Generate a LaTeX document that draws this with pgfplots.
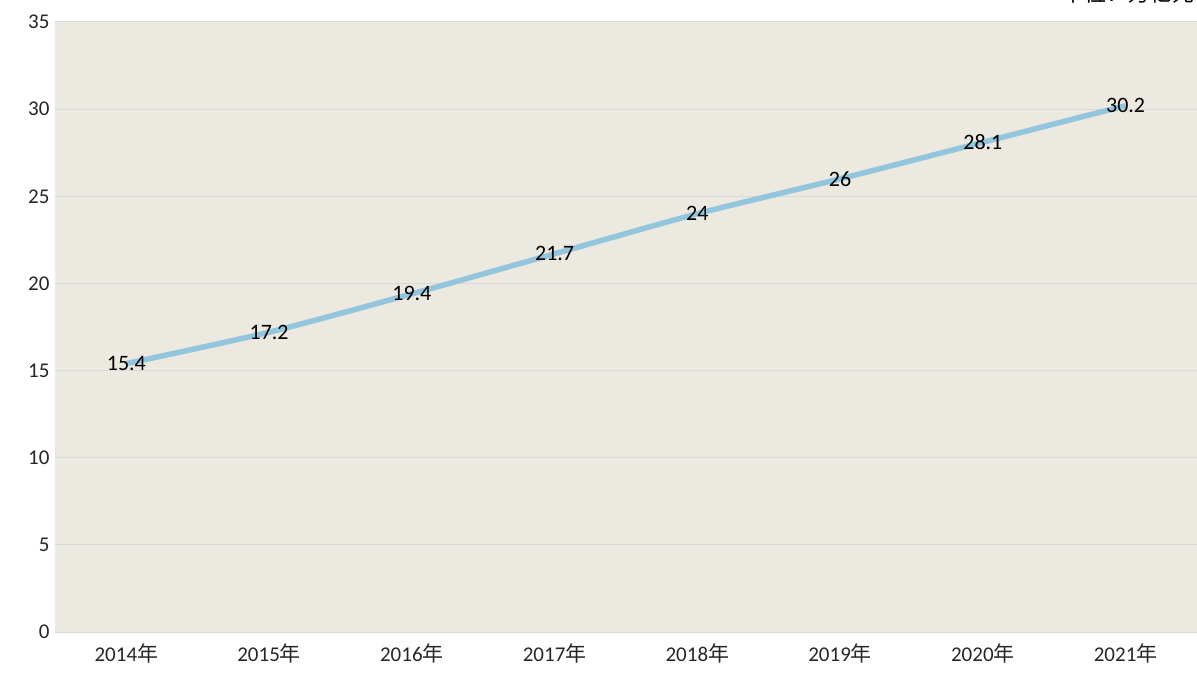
\documentclass[border=0pt]{standalone}
\usepackage{pgfplots}
\pgfplotsset{compat=1.18}
\usepackage{fontspec}
\setmainfont{Carlito}
\newfontfamily\cjk{Noto Sans CJK SC}
\definecolor{bgc}{HTML}{ECE9E0}
\definecolor{linec}{HTML}{93C6DC}
\definecolor{gridc}{HTML}{D9D9D9}
\begin{document}
\begin{tikzpicture}
\begin{axis}[
  at={(55bp,42bp)}, anchor=south west,
  scale only axis, width=1142bp, height=610bp,
  xmin=-0.5, xmax=7.5, ymin=0, ymax=35,
  ytick={0,5,...,35},
  xtick={0,...,7},
  xticklabels={2014{\cjk 年},2015{\cjk 年},2016{\cjk 年},2017{\cjk 年},2018{\cjk 年},2019{\cjk 年},2020{\cjk 年},2021{\cjk 年}},
  /pgf/number format/assume math mode=true,
  ymajorgrids, major grid style={gridc, line width=1bp},
  axis line style={draw=none},
  major tick length=0pt,
  tick label style={font=\fontsize{21bp}{24bp}\selectfont, text=black!85},
  yticklabel style={xshift=-2bp},
  xticklabel style={yshift=-8bp},
  axis background/.style={fill=bgc},
  clip=false,
]
\addplot[linec, line width=5.5bp, smooth, tension=0.4,
  nodes near coords, point meta=explicit symbolic,
  every node near coord/.style={anchor=center, font=\fontsize{22bp}{24bp}\selectfont, text=black}]
  coordinates {(0,15.4)[15.4] (1,17.2)[17.2] (2,19.4)[19.4] (3,21.7)[21.7] (4,24)[24] (5,26)[26] (6,28.1)[28.1] (7,30.2)[30.2]};
\end{axis}
\node[anchor=base east, font=\cjk\fontsize{22bp}{24bp}\selectfont, inner sep=0pt] at (1195bp,672bp) {单位：万亿元};
\pgfresetboundingbox
\path[use as bounding box] (0,0) rectangle (1197bp,674bp);
\end{tikzpicture}
\end{document}
